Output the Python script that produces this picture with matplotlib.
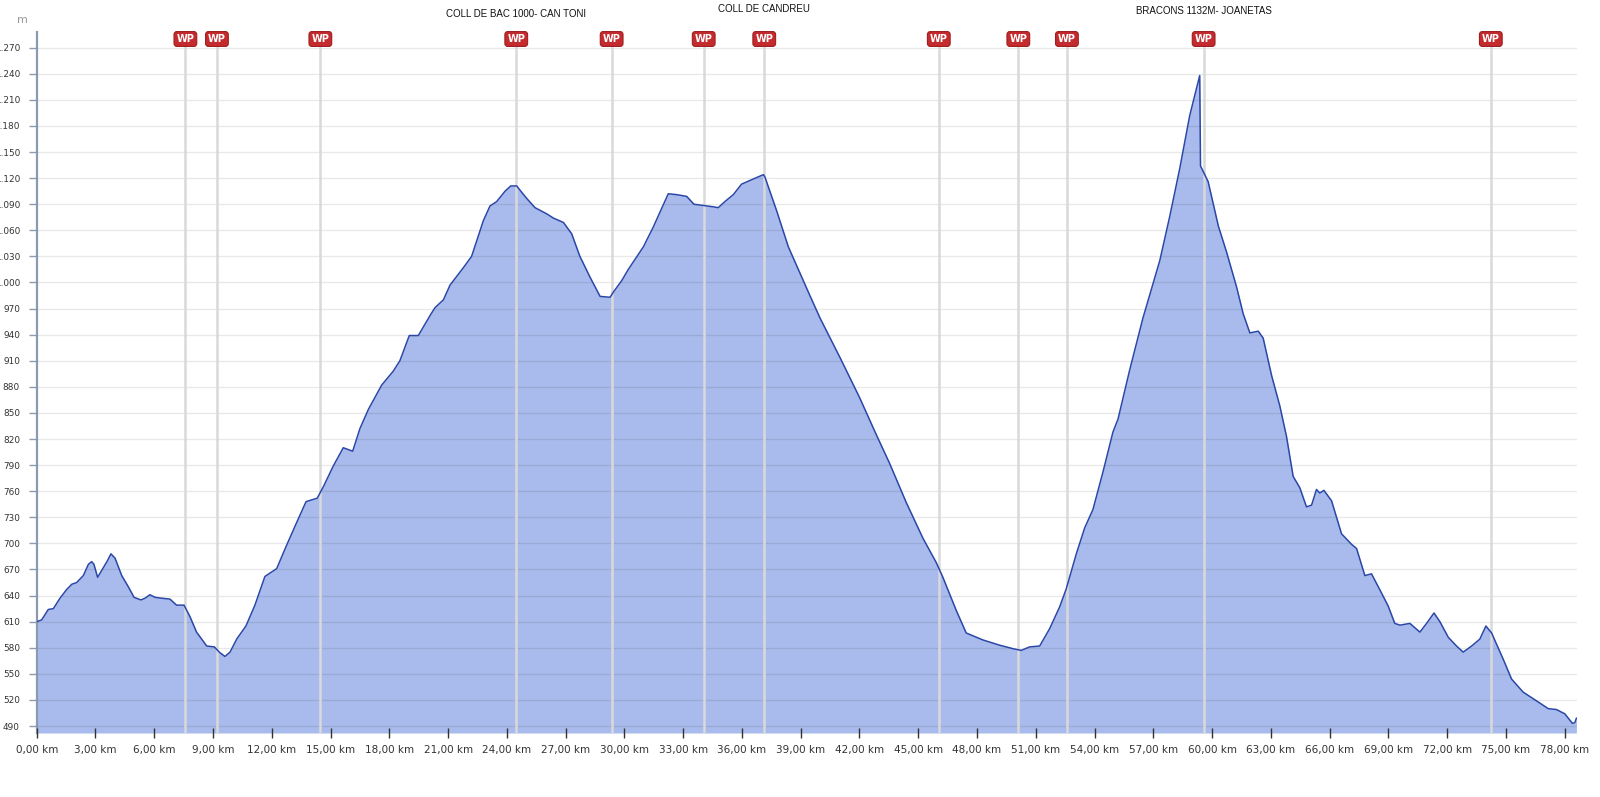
import matplotlib
matplotlib.use("Agg")
import matplotlib.pyplot as plt
from matplotlib.transforms import blended_transform_factory

# perfil d'elevació (km, m)
dist_km = [
    0.0, 0.25, 0.59, 0.85, 1.19, 1.53, 1.79, 2.04, 2.38, 2.64, 2.81, 2.92, 3.11, 3.32, 3.61, 3.79,
    4.0, 4.34, 4.68, 4.97, 5.32, 5.53, 5.78, 6.04, 6.38, 6.80, 7.14, 7.52, 7.82, 8.16, 8.68, 9.07,
    9.32, 9.61, 9.87, 10.21, 10.68, 11.14, 11.65, 12.25, 12.76, 13.27, 13.75, 14.32, 14.63, 15.14,
    15.65, 16.13, 16.50, 16.93, 17.61, 18.2, 18.54, 19.02, 19.48, 20.08, 20.33, 20.76, 21.1, 21.78,
    22.2, 22.8, 23.14, 23.48, 23.91, 24.2, 24.5, 25.0, 25.44, 26.03, 26.38, 26.89, 27.31, 27.73,
    28.25, 28.76, 29.27, 29.44, 29.86, 30.2, 30.97, 31.48, 32.24, 32.67, 33.18, 33.55, 34.2, 34.54,
    34.79, 35.13, 35.56, 35.98, 36.58, 37.1, 37.18, 37.78, 38.37, 38.88, 39.47, 39.99, 41.0, 42.0,
    42.86, 43.54, 44.39, 45.24, 45.92, 46.26, 46.94, 47.45, 48.3, 49.15, 49.83, 50.26, 50.69, 51.2,
    51.71, 52.22, 52.56, 53.07, 53.5, 53.92, 54.43, 54.94, 55.2, 55.79, 56.47, 56.73, 57.33, 57.84,
    58.35, 58.86, 59.37, 59.41, 59.8, 60.32, 60.74, 61.25, 61.59, 61.93, 62.36, 62.61, 63.04, 63.46,
    63.8, 64.14, 64.48, 64.82, 65.08, 65.33, 65.50, 65.71, 66.1, 66.61, 67.12, 67.38, 67.8, 68.14,
    68.65, 68.99, 69.33, 69.59, 70.1, 70.61, 70.95, 71.33, 71.63, 72.06, 72.48, 72.82, 73.25, 73.67,
    73.98, 74.27, 74.86, 75.29, 75.88, 76.56, 77.16, 77.58, 78.01, 78.40, 78.52, 78.6,
]
elev_m = [
    610, 612, 624, 625, 637, 647, 653, 655, 663, 676, 679, 676, 661, 669, 680, 688,
    683, 663, 650, 638, 635, 637, 641, 638, 637, 636, 629, 629, 616, 598, 582, 581,
    575, 570, 575, 590, 605, 629, 662, 671, 698, 724, 748, 752, 765, 789,
    810, 806, 832, 854, 882, 898, 910, 939, 939, 962, 971, 980, 997, 1017,
    1030, 1071, 1088, 1093, 1105, 1111, 1111, 1097, 1086, 1079, 1074, 1069, 1056, 1030,
    1006, 984, 983, 989, 1002, 1015, 1041, 1064, 1102, 1101, 1099, 1090, 1088, 1087,
    1086, 1093, 1101, 1113, 1119, 1124, 1121, 1082, 1041, 1015, 985, 959, 914, 868,
    825, 792, 747, 706, 678, 661, 623, 597, 589, 583, 579, 577, 581, 582,
    602, 627, 648, 688, 718, 739, 782, 828, 843, 899, 959, 979, 1025, 1076,
    1131, 1192, 1238, 1134, 1116, 1065, 1035, 995, 964, 942, 944, 936, 893, 858,
    823, 777, 764, 742, 744, 762, 758, 761, 749, 711, 699, 694, 663, 665,
    643, 628, 608, 606, 608, 598, 608, 620, 610, 592, 582, 575, 582, 590,
    605, 597, 567, 544, 529, 519, 510, 509, 504, 493, 494, 499,
]

# waypoints
wp_km = [7.59, 9.20, 14.48, 24.48, 29.35, 34.05, 37.14, 46.05, 50.11, 52.59, 59.57, 74.23]
label_km = [24.48, 37.14, 59.57]
label_text = ["COLL DE BAC 1000- CAN TONI", "COLL DE CANDREU", "BRACONS 1132M- JOANETAS"]

y_ticks = list(range(490, 1271, 30))
x_ticks = list(range(0, 79, 3))

fill_color = "#a9bbec"
line_color = "#2a47a8"

fig = plt.figure(figsize=(16, 7.97), dpi=100)
ax = fig.add_axes([0.02294, 0.0803, 0.96269, 0.87955])

ax.fill_between(dist_km, elev_m, 482, color=fill_color, lw=0, zorder=1)
ax.plot(dist_km, elev_m, color=line_color, lw=1.1, zorder=5)
ax.vlines(wp_km, 482, 1272, color="#d9d9d9", lw=1.8, zorder=4)

ax.set_xlim(0, 78.63)
ax.set_ylim(482, 1288)
ax.set_yticks(y_ticks)
ax.set_yticklabels([f"{v:,}".replace(",", ".") for v in y_ticks])
ax.set_xticks(x_ticks)
ax.set_xticklabels([f"{v:.2f} km".replace(".", ",") for v in x_ticks])

ax.set_axisbelow(False)
ax.grid(axis="y", color="black", alpha=0.085, lw=1)
ax.grid(axis="x", visible=False)

for s in ["top", "right", "bottom"]:
    ax.spines[s].set_visible(False)
ax.spines["left"].set_color("#8a9ab0")
ax.spines["left"].set_linewidth(1.6)

ax.tick_params(axis="x", direction="inout", length=7.2, width=1, color="#333333",
               labelsize=7.5, labelcolor="#333333", pad=5)
ax.tick_params(axis="y", direction="out", length=5.8, width=1, color="#8a9ab0",
               labelsize=6.4, labelcolor="#333333", pad=6.3)

# etiquetes WP
trans = blended_transform_factory(ax.transData, fig.transFigure)
for x in wp_km:
    ax.text(x, 1 - 39 / 797, "WP", transform=trans, ha="center", va="center",
            fontsize=7, fontweight="bold", color="white", zorder=6,
            bbox=dict(boxstyle="round,pad=0.25,rounding_size=0.3", fc="#c42b2e", ec="#9e1f1f", lw=0.8))

label_y = [14, 9, 11]
for x, t, yy in zip(label_km, label_text, label_y):
    ax.text(x, 1 - yy / 797, t, transform=trans, ha="center", va="center",
            fontsize=7, color="#111111", family=["Liberation Sans Narrow", "Liberation Sans", "DejaVu Sans"])

fig.text(22 / 1600, 1 - 20 / 797, "m", ha="center", va="center", fontsize=8, color="#999999")

fig.savefig("out.png", dpi=100)
